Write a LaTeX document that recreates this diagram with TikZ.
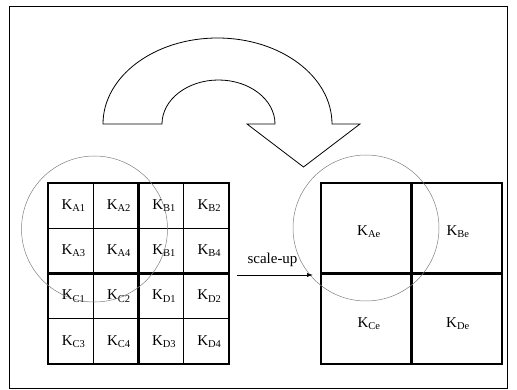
\documentclass[tikz,border=0pt]{standalone}
\usepackage{fontspec}
\setmainfont{Liberation Serif}
\usetikzlibrary{arrows.meta}
\tikzset{
  thinline/.style={line width=0.6pt},
  thickline/.style={line width=2.4pt},
  lens/.style={gray, line width=0.5pt},
  klabel/.style={inner sep=0pt}
}
\newcommand{\kl}[1]{K\textsubscript{#1}}
\begin{document}
\begin{tikzpicture}[x=1pt, y=-1pt, font=\fontsize{15}{17}\selectfont]
\useasboundingbox (0,0) rectangle (517,390);

% frame
\draw[line width=0.8pt] (9.5,6) rectangle (507,388.5);

% curved arrow
\draw[line width=0.8pt] (103,124) arc[start angle=180, end angle=360, x radius=114.5, y radius=86]
  -- (360,124) -- (303.5,167) -- (247,124) -- (275,124)
  arc[start angle=360, end angle=180, x radius=56.5, y radius=44] -- cycle;

% small blocks
\begin{scope}
\foreach \i in {1,3}
  \draw[thinline] (48+45.25*\i,183) -- (48+45.25*\i,364);
\foreach \i in {1,3}
  \draw[thinline] (48,183+45.25*\i) -- (229,183+45.25*\i);
\draw[thickline] (48,183) rectangle (229,364);
\draw[thickline] (138.5,183) -- (138.5,364);
\draw[thickline] (48,273.5) -- (229,273.5);
\foreach \r/\row in {0/{A1,A2,B1,B2}, 1/{A3,A4,B1,B4}, 2/{C1,C2,D1,D2}, 3/{C3,C4,D3,D4}}
  \foreach \lab [count=\c from 0] in \row
    \node[klabel] (s\r\c) at (70.6+45.25*\c+3,205.6+45.25*\r) {\kl{\lab}};
\end{scope}

% large blocks
\begin{scope}
\draw[thickline] (321,183) rectangle (502,364);
\draw[thickline] (411.5,183) -- (411.5,364);
\draw[thickline] (321,273.5) -- (502,273.5);
\node[klabel] (bA) at (369,232) {\kl{Ae}};
\node[klabel] (bB) at (458,232) {\kl{Be}};
\node[klabel] (bC) at (369,324) {\kl{Ce}};
\node[klabel] (bD) at (458,324) {\kl{De}};
\end{scope}

% lenses
\draw[lens] (94.5,229) circle[radius=73];
\draw[lens] (366,228) circle[radius=73];

% scale-up
\coordinate (su-a) at (237,275);
\coordinate (su-b) at (313,275);
\draw[thinline, -{Latex[length=6pt, width=4pt]}] (su-a) -- (su-b);
\node (su) at (272.5,260) {scale-up};

\end{tikzpicture}
\end{document}
